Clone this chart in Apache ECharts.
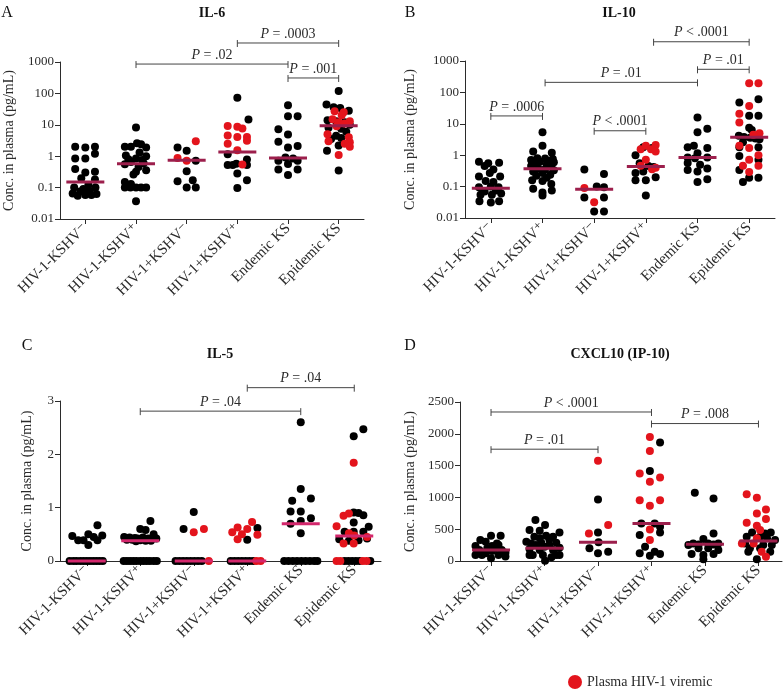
<!DOCTYPE html>
<html>
<head>
<meta charset="utf-8">
<script src="https://cdn.jsdelivr.net/npm/echarts@6/dist/echarts.min.js"></script>
<style>
html, body { margin: 0; padding: 0; background: #fff; }
#main { width: 784px; height: 689px; }
</style>
</head>
<body>
<div id="main"></div>
<script>
// groups on the x axis
var groups = ['HIV-1-KSHV\u207B', 'HIV-1-KSHV\u207A', 'HIV-1+KSHV\u207B', 'HIV-1+KSHV\u207A', 'Endemic KS', 'Epidemic KS'];
var groupTicks = [0, 1, 2, 3, 4, 5];

// points: [group + jitter, value]
// A  IL-6
var il6Black = [
	[-0.2,2.0],[0,1.9],[0.19,2.0],[-0.2,0.84],[0,0.84],[0.19,1.2],[-0.2,0.39],[0,0.3],[0.19,0.32],[0.19,0.18],[-0.08,0.2],
	[-0.22,0.1],[0.2,0.1],[0.06,0.12],[-0.25,0.065],[-0.1,0.075],[0.08,0.08],[0.22,0.062],[-0.15,0.055],[0,0.058],[0.12,0.058],[-0.04,0.09],
	[1,8.2],[0.78,2.0],[0.9,2.0],[1.02,2.6],[1.1,2.4],[1.2,1.9],[1.07,1.3],[0.8,1.05],[1.2,1.0],[1,0.85],[0.9,0.65],[1.15,0.6],[0.78,0.55],
	[1.05,0.45],[1.2,0.36],[0.95,0.26],[1,0.32],[0.78,0.15],[0.9,0.13],[0.78,0.1],[0.89,0.1],[1,0.1],[1.1,0.1],[1.2,0.1],[1,0.037],[1.12,0.75],[0.85,0.8],
	[1.82,1.9],[2,1.5],[2.18,0.72],[2,0.33],[1.82,0.16],[2.12,0.17],[2,0.1],[2.18,0.1],
	[3,73],[3.22,14.7],[2.81,1.16],[3.19,0.78],[2.81,0.52],[2.91,0.52],[2.98,0.58],[3.19,0.52],[3,0.28],[3.19,0.17],[3,0.098],
	[4,42],[4,18.8],[4.19,18.8],[3.81,7.2],[4,4.9],[3.81,2.9],[4.19,2.1],[4,1.9],[3.81,0.71],[3.95,0.91],[4.1,0.85],[4.19,0.71],[4,0.56],[3.81,0.38],[4.19,0.38],[4,0.25],
	[5,120],[4.76,44],[4.9,36],[5.03,34],[5.2,28],[4.78,14],[4.95,13],[5.12,12],[5.22,10],[4.8,8],[5.05,7.5],[5.15,6],[4.95,4.5],[5.05,3.8],[4.85,3.5],[5.0,2.2],[4.77,1.5],[5,0.35]
];
var il6Red = [
	[2.18,3.0],[1.82,0.88],[2,0.72],
	[2.81,9.2],[3,8.6],[3.1,7.6],[2.81,4.6],[3,4.1],[3.19,4.1],[3.19,3.1],[2.81,2.5],[3,1.55],[3.1,0.54],
	[4.92,27],[5.1,25],[5.06,20],[4.88,15],[5.22,13],[5.0,12],[5.12,11],[4.96,9],[4.78,5],[5.2,4],[4.8,3.0],[5.22,2.8],[5.12,2.5],[5.22,2.0],[5,1.1]
];
var il6Median = [0.15, 0.58, 0.74, 1.36, 0.88, 9.3];
var il6Brackets = [[1, 4, 860, '= .02'], [3, 5, 4030, '= .0003'], [4, 5, 310, '= .001']];

// B  IL-10
var il10Black = [
	[-0.23,0.62],[-0.05,0.55],[0.16,0.58],[-0.12,0.45],[0.05,0.35],[-0.23,0.21],[-0.02,0.27],[0.18,0.21],[-0.1,0.15],[0.05,0.14],[-0.23,0.095],
	[0.15,0.095],[0,0.1],[-0.12,0.07],[0.1,0.075],[-0.2,0.055],[0.02,0.055],[0.2,0.06],[-0.22,0.034],[0,0.031],[0.16,0.034],
	[1,5.4],[1,2.0],[0.82,1.3],[1.18,1.2],[0.9,0.8],[1.05,0.78],[1.2,0.75],[0.78,0.7],[1.12,0.65],[0.95,0.62],[1.22,0.6],[0.85,0.55],[1.08,0.5],
	[0.78,0.45],[1.17,0.42],[0.92,0.38],[1.05,0.36],[1.22,0.33],[0.82,0.3],[1,0.27],[1.15,0.24],[0.88,0.22],[1.08,0.19],[0.8,0.16],[1,0.15],
	[1.17,0.12],[0.82,0.085],[1.18,0.075],[1,0.065],[1,0.052],
	[1.81,0.35],[2.19,0.25],[2.05,0.1],[2.19,0.095],[1.81,0.045],[2.19,0.045],[2,0.016],[2.19,0.016],
	[2.8,1.0],[2.95,1.8],[3.12,1.7],[3.05,0.45],[3.15,0.42],[2.8,0.27],[2.95,0.3],[2.8,0.16],[3,0.16],[3.19,0.2],[3,0.052],[2.88,0.55],
	[4,16],[4,5.4],[4.19,6.9],[3.81,1.8],[3.93,2.0],[4.19,1.7],[4,1.15],[3.81,0.84],[4.19,0.84],[3.95,0.8],[3.81,0.56],[4.05,0.5],
	[3.81,0.34],[4.19,0.38],[4,0.3],[4.19,0.17],[4,0.14],
	[5.18,60],[4.81,48],[5,18],[5.18,18],[5,7.5],[5.05,6.4],[4.8,4.2],[4.9,3.8],[5.02,3.6],[5.12,3.4],[5.2,3.2],[4.88,2.6],[4.81,1.8],
	[5.18,1.8],[4.81,0.95],[5.18,0.71],[4.81,0.34],[5,0.19],[5.18,0.19],[4.88,0.14]
];
var il10Red = [
	[1.81,0.09],[2,0.032],
	[2.9,1.55],[3,2.0],[3.19,2.1],[3.1,1.55],[3,0.71],[2.9,0.46],[3.19,0.4],[3.12,0.36],[3.19,1.3],
	[5,195],[5.18,195],[5,37],[4.81,21],[4.81,11],[5.2,5],[5.08,4.5],[4.81,2.0],[5,1.7],[5.18,1.0],[5,0.71],[4.88,0.46],[5.18,0.46],[5,0.29]
];
var il10Median = [0.089, 0.37, 0.083, 0.44, 0.84, 3.7];
var il10Brackets = [[0, 1, 17.8, '= .0006'], [2, 3, 6.0, '< .0001'], [1.05, 4, 209, '= .01'], [4, 5, 544, '= .01'], [3.15, 5, 4100, '< .0001']];

// C  IL-5
var il5Black = [
	[-0.32,0],[-0.25,0],[-0.19,0],[-0.12,0],[-0.06,0],[0,0],[0.06,0],[0.12,0],[0.18,0],[0.24,0],[0.3,0],
	[-0.27,0.47],[-0.16,0.39],[-0.06,0.39],[0.03,0.3],[0.03,0.5],[0.13,0.45],[0.2,0.67],[0.2,0.39],[0.29,0.48],
	[0.69,0],[0.75,0],[0.81,0],[0.87,0],[0.93,0],[1,0],[1.06,0],[1.12,0],[1.18,0],[1.25,0],[1.31,0],
	[1.19,0.75],[1,0.6],[1.1,0.58],[1.25,0.5],[0.7,0.45],[0.8,0.44],[0.9,0.43],[0.95,0.42],[1.05,0.44],[1.15,0.42],[1.3,0.42],
	[0.75,0.4],[0.85,0.4],[1.0,0.39],[1.1,0.38],[1.2,0.38],[0.92,0.37],
	[1.66,0],[1.73,0],[1.8,0],[1.87,0],[1.94,0],[2.01,0],[2.08,0],[2.15,0],
	[2,0.92],[1.81,0.6],
	[2.69,0],[2.76,0],[2.83,0],[2.9,0],[2.97,0],[3.04,0],[3.11,0],
	[3.19,0.62],[3.0,0.4],
	[3.69,0],[3.77,0],[3.85,0],[3.93,0],[4.01,0],[4.09,0],[4.17,0],[4.25,0],[4.31,0],
	[4,2.6],[4,1.35],[3.84,1.13],[4.19,1.17],[3.81,0.93],[4,0.93],[4.19,0.8],[4,0.75],[3.81,0.7],[4,0.52],
	[4.82,0],[4.89,0],[4.96,0],[5.03,0],[5.1,0],[5.3,0],
	[5.17,2.47],[4.99,2.34],[4.99,0.91],[5.08,0.9],[5.17,0.86],[4.99,0.72],[5.27,0.64],[4.99,0.55],[5.17,0.55],[4.72,0.41],[5.08,0.39],[4.9,0.38],[5.24,0.42],[4.82,0.55]
];
var il5Red = [
	[2.28,0],[2,0.54],[2.19,0.6],
	[3.17,0],[3.25,0],
	[2.72,0.54],[2.82,0.63],[2.9,0.5],[2.82,0.41],[3.0,0.6],[3.09,0.73],[3.19,0.49],
	[4.67,0],[4.74,0],[5.16,0],[5.23,0],
	[4.99,1.84],[4.8,0.85],[4.9,0.89],[4.67,0.65],[4.9,0.52],[4.8,0.33],[4.99,0.33],[5.24,0.45],[5.0,0.48]
];
var il5Median = [0, 0.38, 0, 0, 0.7, 0.47];
var il5Brackets = [[1, 4, 2.81, '= .04'], [3, 5, 3.25, '= .04']];

// D  CXCL10 (IP-10)
var cxclBlack = [
	[0,397],[0.18,397],[-0.2,330],[-0.1,303],[0.02,235],[0.14,250],[-0.29,235],[-0.22,173],[0.02,157],[0.2,173],[-0.29,94],
	[-0.17,94],[0.14,94],[0.27,131],[0,42],[-0.07,199],[0.08,199],[0.27,70],[-0.26,146],[-0.1,120],[0.11,277],
	[0.83,643],[1.01,565],[0.72,486],[0.91,476],[1.28,450],[0.81,382],[1.03,397],[1.16,382],[0.66,303],[0.94,288],[1.22,288],
	[1.09,251],[0.72,188],[0.91,173],[1.16,173],[1.28,209],[0.78,94],[0.97,94],[1.22,94],[1.13,58],[1.01,5],[0.84,251],[1,225],
	[1.28,94],[0.72,94],[1.09,340],[0.91,356],[0.75,277],
	[2,968],[2,450],[1.84,199],[2.01,293],[2.19,146],[2,120],
	[3.16,1862],[2.97,1417],[2.81,591],[3.06,591],[3.16,539],[3.16,450],[2.78,408],[2.88,225],[2.78,120],[3.06,146],[3.16,110],[2.97,84],
	[3.81,1072],[4.16,983],[4.16,434],[3.97,345],[3.78,277],[4.06,277],[4.25,277],[3.88,199],[4.06,199],[4.25,173],[3.75,110],
	[3.97,94],[4.16,110],[3.97,26],[3.88,260],[3.69,251],[4.16,260],
	[4.88,450],[5.23,450],[4.78,382],[5.03,382],[5.16,356],[5.31,330],[4.75,277],[5.09,251],[5.25,251],[4.84,199],[5.03,199],
	[4.81,146],[5.22,146],[4.97,26],[5.12,434]
];
var cxclRed = [
	[2,1575],[2.19,565],[1.83,434],
	[2.97,1951],[2.97,1731],[2.78,1375],[3.16,1313],[2.97,1245],[2.78,957],[3.16,957],[2.97,868],[2.97,497],[2.97,330],
	[4.78,1051],[4.97,994],[5.14,811],[4.97,748],[5.14,659],[4.78,601],[4.97,554],[5.03,486],[4.97,356],[4.91,277],[5.06,146],[5.14,68],[4.69,277]
];
var cxclMedian = [173, 199, 293, 591, 262, 314];
var cxclBrackets = [[0, 3, 2343, '< .0001'], [0, 2, 1758, '= .01'], [3, 5, 2161, '= .008']];

var serif = '"Liberation Serif", "DejaVu Serif", serif';
var ink = '#2b2b2b';

var panels = [
	{ title: 'IL-6', letter: 'A', black: il6Black, red: il6Red, median: il6Median, brackets: il6Brackets,
	  grid: { left: 60, top: 62, width: 304, height: 157 }, xMin: -0.5, xMax: 5.5,
	  yType: 'log', yMin: 0.01, yMax: 1000, nameGap: 44, medianColor: '#9c1f4c',
	  letterPos: [7, 13], titlePos: [212, 13] },
	{ title: 'IL-10', letter: 'B', black: il10Black, red: il10Red, median: il10Median, brackets: il10Brackets,
	  grid: { left: 465, top: 61, width: 310, height: 157 }, xMin: -0.5, xMax: 5.5,
	  yType: 'log', yMin: 0.01, yMax: 1000, nameGap: 48, medianColor: '#9c1f4c',
	  letterPos: [410, 13], titlePos: [619, 13] },
	{ title: 'IL-5', letter: 'C', black: il5Black, red: il5Red, median: il5Median, brackets: il5Brackets,
	  grid: { left: 60, top: 401, width: 321, height: 160 }, xMin: -0.5, xMax: 5.5,
	  yType: 'value', yMin: 0, yMax: 3, yInterval: 1, nameGap: 26, medianColor: '#d3276c',
	  letterPos: [27, 346], titlePos: [220, 354] },
	{ title: 'CXCL10 (IP-10)', letter: 'D', black: cxclBlack, red: cxclRed, median: cxclMedian, brackets: cxclBrackets,
	  grid: { left: 460, top: 402, width: 322, height: 159 }, xMin: -0.58, xMax: 5.44,
	  yType: 'value', yMin: 0, yMax: 2500, yInterval: 500, nameGap: 43, medianColor: '#9c1f4c',
	  letterPos: [410, 346], titlePos: [620, 354] }
];

function bracketSeries(idx, list) {
	return {
		type: 'custom',
		xAxisIndex: idx,
		yAxisIndex: idx,
		clip: false,
		silent: true,
		z: 6,
		data: list.map(function(b) { return [b[0], b[1], b[2]]; }),
		encode: { x: [0, 1], y: 2 },
		renderItem: function(params, api) {
			var a = api.coord([api.value(0), api.value(2)]);
			var b = api.coord([api.value(1), api.value(2)]);
			var line = { stroke: '#444', lineWidth: 1 };
			return {
				type: 'group',
				children: [
					{ type: 'line', shape: { x1: a[0], y1: a[1], x2: b[0], y2: b[1] }, style: line },
					{ type: 'line', shape: { x1: a[0], y1: a[1] - 3, x2: a[0], y2: a[1] + 4 }, style: line },
					{ type: 'line', shape: { x1: b[0], y1: b[1] - 3, x2: b[0], y2: b[1] + 4 }, style: line },
					{
						type: 'text',
						x: (a[0] + b[0]) / 2,
						y: a[1] - 2,
						style: {
							text: '{i|P} ' + list[params.dataIndex][3],
							align: 'center', textAlign: 'center',
							verticalAlign: 'bottom', textVerticalAlign: 'bottom',
							fill: ink,
							font: '14px ' + serif,
							rich: { i: { fontStyle: 'italic', fontSize: 14, fontFamily: serif, fill: ink } }
						}
					}
				]
			};
		}
	};
}

var grids = [], xAxes = [], yAxes = [], series = [], graphics = [];

panels.forEach(function(p, i) {
	grids.push(p.grid);
	xAxes.push({
		gridIndex: i,
		type: 'value',
		min: p.xMin,
		max: p.xMax,
		axisLine: { show: true, onZero: false, lineStyle: { color: ink } },
		axisTick: { show: true, customValues: groupTicks, length: 5, lineStyle: { color: ink } },
		axisLabel: {
			customValues: groupTicks,
			rotate: 45,
			margin: 7,
			fontFamily: serif,
			fontSize: 15,
			color: ink,
			formatter: function(v) { return groups[Math.round(v)]; }
		},
		splitLine: { show: false }
	});
	var y = {
		gridIndex: i,
		type: p.yType,
		min: p.yMin,
		max: p.yMax,
		name: 'Conc. in plasma (pg/mL)',
		nameLocation: 'middle',
		nameGap: p.nameGap,
		nameTextStyle: { fontFamily: serif, fontSize: 14, color: ink },
		axisLine: { show: true, onZero: false, lineStyle: { color: ink } },
		axisTick: { show: true, length: 5, lineStyle: { color: ink } },
		axisLabel: { fontFamily: serif, fontSize: 13, color: ink, margin: 6 },
		splitLine: { show: false }
	};
	if (p.yType === 'log') {
		y.logBase = 10;
		y.axisLabel.formatter = function(v) { return String(+Number(v).toPrecision(4)); };
	} else {
		y.interval = p.yInterval;
		y.axisLabel.formatter = function(v) { return String(v); };
	}
	yAxes.push(y);

	series.push({
		type: 'scatter', xAxisIndex: i, yAxisIndex: i, z: 2,
		symbolSize: 8, itemStyle: { color: '#000', opacity: 1 },
		data: p.black, silent: true
	});
	series.push({
		name: 'Plasma HIV-1 viremic',
		type: 'scatter', xAxisIndex: i, yAxisIndex: i, z: 3,
		symbolSize: 8, itemStyle: { color: '#e3141c', opacity: 1 },
		data: p.red, silent: true
	});
	series.push({
		type: 'scatter', xAxisIndex: i, yAxisIndex: i, z: 4,
		symbol: 'rect', symbolSize: [38, 3],
		itemStyle: { color: p.medianColor, opacity: 1 },
		data: p.median.map(function(m, g) { return [g, m]; }),
		silent: true
	});
	series.push(bracketSeries(i, p.brackets));

	graphics.push({
		type: 'text', x: p.letterPos[0], y: p.letterPos[1],
		style: { text: p.letter, font: '16px ' + serif, fill: '#111',
			align: 'center', textAlign: 'center', verticalAlign: 'middle', textVerticalAlign: 'middle' }
	});
	graphics.push({
		type: 'text', x: p.titlePos[0], y: p.titlePos[1],
		style: { text: p.title, font: 'bold 14px ' + serif, fill: '#111',
			align: 'center', textAlign: 'center', verticalAlign: 'middle', textVerticalAlign: 'middle' }
	});
});

var chart = echarts.init(document.getElementById('main'), null, { renderer: 'canvas' });
chart.setOption({
	animation: false,
	backgroundColor: '#fff',
	grid: grids,
	xAxis: xAxes,
	yAxis: yAxes,
	series: series,
	graphic: graphics,
	legend: {
		data: ['Plasma HIV-1 viremic'],
		left: 568,
		top: 675,
		padding: 0,
		icon: 'circle',
		itemWidth: 14,
		itemHeight: 14,
		selectedMode: false,
		textStyle: { fontFamily: serif, fontSize: 14, color: ink }
	}
});
</script>
</body>
</html>
